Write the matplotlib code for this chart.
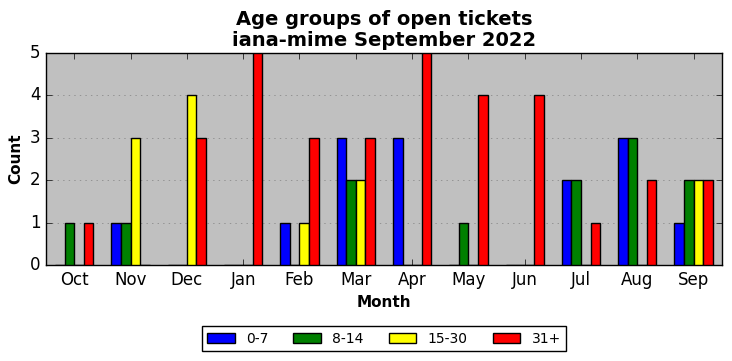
import numpy as np
import matplotlib
matplotlib.use('Agg')
import matplotlib.pyplot as plt

plt.style.use('classic')

months = ['Oct', 'Nov', 'Dec', 'Jan', 'Feb', 'Mar', 'Apr', 'May', 'Jun', 'Jul', 'Aug', 'Sep']
groups = ['0-7', '8-14', '15-30', '31+']
colors = ['blue', 'green', 'yellow', 'red']

age_0_7 = [0, 1, 0, 0, 1, 3, 3, 0, 0, 2, 3, 1]
age_8_14 = [1, 1, 0, 0, 0, 2, 0, 1, 0, 2, 3, 2]
age_15_30 = [0, 3, 4, 0, 1, 2, 0, 0, 0, 0, 0, 2]
age_31_plus = [1, 0, 3, 5, 3, 3, 5, 4, 4, 1, 2, 2]

series = [age_0_7, age_8_14, age_15_30, age_31_plus]

fig, ax = plt.subplots(figsize=(7.32, 3.61), dpi=100)
fig.patch.set_facecolor('white')
ax.set_facecolor('#c0c0c0')

x = np.arange(len(months))
w = 0.17
for i, (vals, lab, col) in enumerate(zip(series, groups, colors)):
    ax.bar(x + (i - 2) * w, vals, w, align='edge', color=col, edgecolor='black',
           linewidth=1, label=lab, zorder=3)

ax.set_xticks(x)
ax.set_xticklabels(months, fontsize=12)
ax.set_xlim(-0.5, 11.5)
ax.set_ylim(0, 5)
ax.set_yticks(range(6))
ax.tick_params(axis='y', labelsize=12)
ax.yaxis.grid(True, linestyle=':', color='gray', zorder=0)
ax.set_axisbelow(True)

ax.set_title('Age groups of open tickets\niana-mime September 2022',
             fontsize=14, fontweight='bold', linespacing=1.15)
ax.set_xlabel('Month', fontsize=11, fontweight='bold')
ax.set_ylabel('Count', fontsize=11, fontweight='bold')

ax.legend(loc='upper center', bbox_to_anchor=(0.5, -0.255), ncol=4,
          fontsize=10, frameon=True, fancybox=False, handlelength=2.0,
          columnspacing=1.8, borderpad=0.4)

fig.subplots_adjust(left=0.063, right=0.986, top=0.853, bottom=0.266)
fig.savefig('out.png', dpi=100)
